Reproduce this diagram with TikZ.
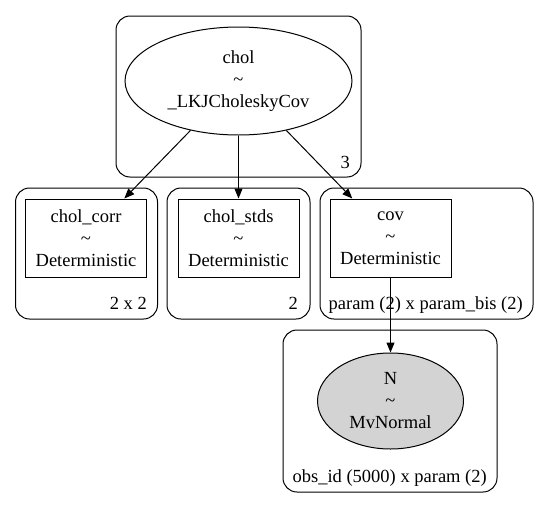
\documentclass[tikz,border=0pt]{standalone}
\usepackage{fontspec}
\setmainfont{Liberation Serif}
\usetikzlibrary{shapes.geometric,arrows.meta}
\definecolor{nodegray}{HTML}{D3D3D3}
\tikzset{
  every node/.style={font=\fontsize{18.5}{22}\selectfont},
  plate/.style={draw, line width=1pt, rounded corners=14pt, inner sep=0pt},
  rv/.style={draw, line width=1pt, ellipse, inner sep=0pt, align=center},
  detbox/.style={draw, line width=1pt, rectangle, inner sep=0pt, align=center, minimum width=121pt, minimum height=78pt},
  platelabel/.style={anchor=base east, inner sep=0pt},
  edge/.style={line width=1pt, -{Triangle[length=10pt,width=8pt]}}
}
\begin{document}
\begin{tikzpicture}[x=1pt,y=-1pt]
\useasboundingbox (0,0) rectangle (549,509);
% plates
\node[plate, minimum width=245pt, minimum height=161pt] (p1) at (238.5,96.5) {};
\node[plate, minimum width=142pt, minimum height=131pt] (p2) at (86.5,253.5) {};
\node[plate, minimum width=143pt, minimum height=131pt] (p3) at (238.5,253.5) {};
\node[plate, minimum width=213pt, minimum height=131pt] (p4) at (426.5,253.5) {};
\node[plate, minimum width=214pt, minimum height=162pt] (p5) at (390,411) {};
% plate labels
\node[platelabel] (l1) at (350,168) {3};
\node[platelabel] (l2) at (147,309) {2 x 2};
\node[platelabel] (l3) at (298,309) {2};
\node[platelabel] (l4) at (523,309) {param (2) x param\_bis (2)};
\node[platelabel] (l5) at (487,482) {obs\_id (5000) x param (2)};
% variables
\node[rv, minimum width=227pt, minimum height=108pt] (chol) at (238.5,81) {chol\\\textasciitilde\\\_LKJCholeskyCov};
\node[detbox] (corr) at (86,238) {chol\_corr\\\textasciitilde\\Deterministic};
\node[detbox] (stds) at (238.5,238) {chol\_stds\\\textasciitilde\\Deterministic};
\node[detbox] (cov) at (390.5,238) {cov\\\textasciitilde\\Deterministic};
\node[rv, fill=nodegray, minimum width=146pt, minimum height=96pt] (N) at (390.5,401) {N\\\textasciitilde\\MvNormal};
% edges
\draw[edge] (chol) -- (corr);
\draw[edge] (chol) -- (stds);
\draw[edge] (chol) -- (cov);
\draw[edge] (cov) -- (N);
\end{tikzpicture}
\end{document}
